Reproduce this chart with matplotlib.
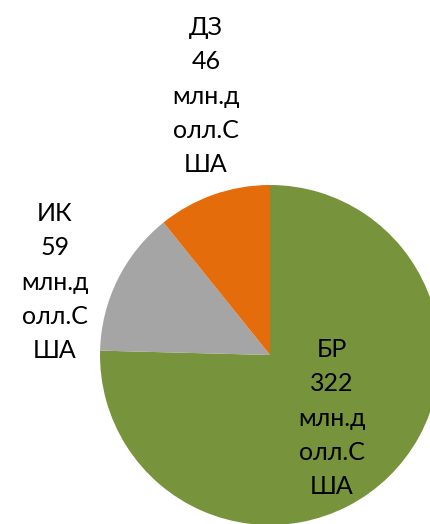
import matplotlib
matplotlib.use("Agg")
import matplotlib.pyplot as plt

categories = ["БР", "ИК", "ДЗ"]
values = [322, 59, 46]
colors = ["#77933C", "#A5A5A5", "#E46C0A"]
unit_lines = ["млн.д", "олл.С", "ША"]

W, H = 430, 524
fig = plt.figure(figsize=(W / 100, H / 100), dpi=100)
ax = fig.add_axes([0, 0, 1, 1])

cx, cy, r = 270, H - 355, 170
ax.pie(values, colors=colors, startangle=90, counterclock=False,
       center=(cx, cy), radius=r, wedgeprops=dict(linewidth=0))
ax.set_xlim(0, W)
ax.set_ylim(0, H)
ax.set_aspect("auto")
ax.axis("off")

label_pos = {"БР": (332, H - 418), "ИК": (55, H - 282), "ДЗ": (206, H - 96)}
for name, val in zip(categories, values):
    txt = "\n".join([name, str(val)] + unit_lines)
    x, y = label_pos[name]
    ax.text(x, y, txt, ha="center", va="center", multialignment="center",
            fontsize=18, family=["Lato", "DejaVu Sans"], color="#000000",
            linespacing=1.6)

fig.savefig("out.png", dpi=100)
